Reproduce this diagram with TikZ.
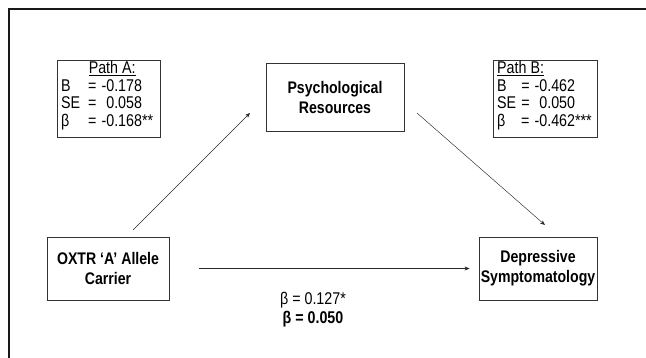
\documentclass[tikz,border=0pt]{standalone}
\usepackage{fontspec}
\setmainfont[FakeStretch=0.84]{Liberation Sans}
\usetikzlibrary{arrows.meta}
\begin{document}
\begin{tikzpicture}[x=1pt,y=-1pt,
  box/.style={draw=black!80, line width=0.9pt, inner sep=0pt, align=center,
    font=\fontsize{16.8}{20}\selectfont\bfseries},
  statbox/.style={draw=black!80, line width=0.9pt, inner sep=0pt},
  conn/.style={draw=black!85, line width=0.45pt, -{Stealth[length=5pt,width=4pt]}},
  lbl/.style={font=\fontsize{17}{17.5}\selectfont, inner sep=0pt}]
\useasboundingbox (0,0) rectangle (646,358);
% outer frame (open at right and bottom)
\draw[line width=1.3pt, black!90] (9,358) -- (9,9) -- (646,9);
% boxes
\node[statbox, minimum width=103pt, minimum height=77pt] (pa) at (108.5,98.5) {};
\node[lbl, anchor=north west, align=left] (patext) at (61,61) {%
  \begin{tabular}{@{}l@{\hspace{8pt}}l@{\hspace{5pt}}l@{}}
  \multicolumn{3}{@{}c@{}}{\hspace{10pt}\underline{Path A:}}\\
  B & = & -0.178\\
  SE & = & \phantom{-}0.058\\
  β & = & -0.168**
  \end{tabular}};
\node[box, minimum width=138pt, minimum height=68pt] (psy) at (335,97) {Psychological\\Resources};
\node[statbox, minimum width=104pt, minimum height=77pt] (pb) at (545,98.5) {};
\node[lbl, anchor=north west, align=left] (pbtext) at (497,61) {%
  \begin{tabular}{@{}l@{\hspace{5pt}}l@{\hspace{5pt}}l@{}}
  \multicolumn{3}{@{}l@{}}{\underline{Path B:}}\\
  B & = & -0.462\\
  SE & = & \phantom{-}0.050\\
  β & = & -0.462***
  \end{tabular}};
\node[box, minimum width=122pt, minimum height=63pt] (ox) at (108,268.5) {OXTR ‘A’ Allele\\Carrier};
\node[box, minimum width=118pt, minimum height=63pt] (dep) at (538,268.5) {Depressive\\Symptomatology};
% connectors
\coordinate (a1) at (133,230);
\coordinate (a2) at (250,113);
\coordinate (b1) at (417,113);
\coordinate (b2) at (545,225);
\draw[conn] (a1) -- (a2);
\draw[conn] (b1) -- (b2);
\draw[conn] ([xshift=30pt]ox.east) -- ([xshift=-9pt]dep.west);
% labels
\node[lbl] (c1) at (313,300) {β = 0.127*};
\node[lbl, font=\fontsize{17}{17.5}\selectfont\bfseries] (c2) at (313,319) {β = 0.050};
\end{tikzpicture}
\end{document}
